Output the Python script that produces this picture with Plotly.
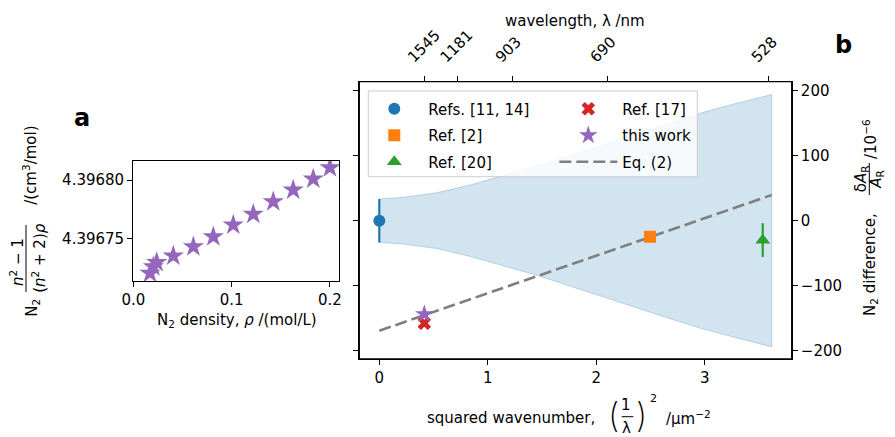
import plotly.graph_objects as go

W, H = 895, 437          # browser window
OFF = 8                   # default page margin around the plot div
FW, FH = W - OFF, H - OFF  # figure size

# ---------------- data ----------------
# panel a : N2 molar polarizability vs density
rho_a = [0.2001, 0.1831, 0.1627, 0.1424, 0.1221, 0.1017, 0.0814, 0.0611, 0.0407, 0.0238, 0.0204, 0.0170]
pol_a = [4.3968105, 4.3968009, 4.3967914, 4.3967814, 4.3967706, 4.3967614,
         4.3967514, 4.3967428, 4.3967348, 4.3967294, 4.3967256, 4.3967200]
a_xticks = [0.0, 0.1, 0.2]
a_yticks = [4.39675, 4.39680]

# panel b : relative difference vs squared wavenumber (um^-2), values in 1e-6
refs1114_x, refs1114_y, refs1114_err = [0.0], [0.0], [33.5]
ref2_x, ref2_y, ref2_err = [2.495], [-24.6], [3.0]
ref20_x, ref20_y, ref20_err = [3.534], [-30.0], [26.0]
ref17_x, ref17_y, ref17_err = [0.415], [-158.0], [4.0]
work_x, work_y = [0.415], [-144.0]
eq2_x, eq2_y = [0.0, 3.617], [-169.5, 39.6]
band_x = [0.0, 0.221, 0.529, 0.836, 1.143, 1.451, 1.758, 2.065, 2.372, 2.68, 2.986, 3.294, 3.617]
band_half = [33.4, 36.0, 43.0, 55.0, 69.5, 84.0, 100.0, 117.0, 134.0, 151.0, 167.0, 181.0, 194.5]
b_xticks = [0, 1, 2, 3]
b_yticks = [-200, -100, 0, 100, 200]
top_wavelengths_nm = [1545, 1181, 903, 690, 528]

# ---------------- styling helpers ----------------
FONT = "DejaVu Sans"
BLUE, ORANGE, GREEN, RED, PURPLE, GREY = "#1f77b4", "#ff7f0e", "#2ca02c", "#d62728", "#9467bd", "#7f7f7f"


def px(x, y):
    return (x - OFF) / FW, 1 - (y - OFF) / FH


def dom_x(a, b):
    return [px(a, 0)[0], px(b, 0)[0]]


def dom_y(top, bottom):
    return [px(0, bottom)[1], px(0, top)[1]]


def ann(text, x, y, size=15, angle=0, xanchor="center", yanchor="middle", bold=False, family=FONT, weight=None):
    ax, ay = px(x, y)
    f = dict(family=family, size=size, color="black")
    if weight is not None:
        f["weight"] = weight
    return dict(text=("<b>%s</b>" % text) if bold else text, x=ax, y=ay, xref="paper", yref="paper",
                showarrow=False, textangle=angle, xanchor=xanchor, yanchor=yanchor, font=f)


def vline(x, y0, y1):
    ax, ay0 = px(x, y0)
    _, ay1 = px(x, y1)
    return dict(type="line", xref="paper", yref="paper", x0=ax, x1=ax, y0=ay0, y1=ay1,
                line=dict(color="black", width=1))


def hline(x0, x1, y):
    ax0, ay = px(x0, y)
    ax1, _ = px(x1, y)
    return dict(type="line", xref="paper", yref="paper", x0=ax0, x1=ax1, y0=ay, y1=ay,
                line=dict(color="black", width=1))


fig = go.Figure()

# ---------------- panel a ----------------
fig.add_trace(go.Scatter(x=rho_a, y=pol_a, mode="markers", xaxis="x", yaxis="y",
                         marker=dict(symbol="star", size=16, color=PURPLE, line=dict(width=0)),
                         showlegend=False))

# ---------------- panel b ----------------
upper = [h for h in band_half]
lower = [-h for h in band_half]
fig.add_trace(go.Scatter(x=band_x + band_x[::-1], y=upper + lower[::-1], mode="lines",
                         fill="toself", fillcolor="rgba(31,119,180,0.2)",
                         line=dict(color="rgba(31,119,180,0.25)", width=1),
                         xaxis="x2", yaxis="y2", showlegend=False, hoverinfo="skip"))

fig.add_trace(go.Scatter(x=eq2_x, y=eq2_y, mode="lines", name="Eq. (2)",
                         line=dict(color=GREY, width=2.6, dash="12px,5px"),
                         xaxis="x2", yaxis="y2", legend="legend2", legendrank=3, legendgroup="g6"))


def errpts(xs, ys, err, color, symbol, size, name, legend, rank, grp):
    return go.Scatter(x=xs, y=ys, mode="markers", name=name,
                      marker=dict(symbol=symbol, size=size, color=color, line=dict(width=0)),
                      error_y=dict(type="data", array=err, visible=True, color=color, thickness=2.2, width=0),
                      xaxis="x2", yaxis="y2", legend=legend, legendrank=rank, legendgroup=grp)


fig.add_trace(errpts(refs1114_x, refs1114_y, refs1114_err, BLUE, "circle", 12, "Refs. [11, 14]", "legend", 1, "g1"))
fig.add_trace(errpts(ref2_x, ref2_y, ref2_err, ORANGE, "square", 12, "Ref. [2]", "legend", 2, "g2"))
fig.add_trace(errpts(ref20_x, ref20_y, ref20_err, GREEN, "triangle-up", 13, "Ref. [20]", "legend", 3, "g3"))
fig.add_trace(errpts(ref17_x, ref17_y, ref17_err, RED, "x", 12, "Ref. [17]", "legend2", 1, "g4"))
fig.add_trace(go.Scatter(x=work_x, y=work_y, mode="markers", name="this work",
                         marker=dict(symbol="star", size=14, color=PURPLE, line=dict(width=0)),
                         xaxis="x2", yaxis="y2", legend="legend2", legendrank=2, legendgroup="g5"))

# top axis (wavelength) uses the same scale as the bottom axis
top_vals = [(1000.0 / l) ** 2 for l in top_wavelengths_nm]
top_text = [str(l) for l in top_wavelengths_nm]
# invisible carrier trace so the top axis is drawn
fig.add_trace(go.Scatter(x=top_vals, y=[0] * len(top_vals), mode="markers", xaxis="x3", yaxis="y2",
                         marker=dict(opacity=0, size=1), showlegend=False, hoverinfo="skip"))

axis_common = dict(showline=True, linecolor="black", linewidth=1.3, ticks="outside", ticklen=5,
                   tickwidth=1.2, tickcolor="black", showgrid=False, zeroline=False, automargin=False,
                   tickfont=dict(family=FONT, size=15, color="black"))

b_xrange = [-0.1843, 3.801]
lf_x0, lf_y0 = px(368.3, 91)
lf_x1, lf_y1 = px(697.3, 176.7)

fig.update_layout(
    width=FW, height=FH, autosize=False,
    margin=dict(l=0, r=0, t=0, b=0),
    paper_bgcolor="white", plot_bgcolor="rgba(0,0,0,0)",
    font=dict(family=FONT, size=15, color="black"),
    xaxis=dict(domain=dom_x(133.3, 339.3), anchor="y", range=[0.0, 0.2096],
               tickvals=a_xticks, tickformat=".1f", mirror=True, **axis_common),
    yaxis=dict(domain=dom_y(161, 281), anchor="x", range=[4.3967134, 4.3968163],
               tickvals=a_yticks, tickformat=".5f", mirror=True, **axis_common),
    xaxis2=dict(domain=dom_x(359.3, 791.7), anchor="y2", range=b_xrange,
                tickvals=b_xticks, **axis_common),
    yaxis2=dict(domain=dom_y(81.7, 359), anchor="x2", side="right", range=[-213.1, 214.2],
                tickvals=b_yticks, mirror="ticks", **axis_common),
    xaxis3=dict(overlaying="x2", anchor="y2", side="top", range=b_xrange,
                tickvals=top_vals, ticktext=top_text, tickangle=-45,
                ticklabelshift=-16, ticklabelstandoff=4, **axis_common),
    legend=dict(x=px(360.3, 0)[0], y=px(0, 92.5)[1], xanchor="left", yanchor="top",
                bgcolor="rgba(0,0,0,0)", borderwidth=0, tracegroupgap=4, itemwidth=58,
                font=dict(family=FONT, size=15, color="black")),
    legend2=dict(x=px(554.3, 0)[0], y=px(0, 92.5)[1], xanchor="left", yanchor="top",
                 bgcolor="rgba(0,0,0,0)", borderwidth=0, tracegroupgap=4, itemwidth=58,
                 font=dict(family=FONT, size=15, color="black")),
    shapes=[
        dict(type="rect", xref="paper", yref="paper", x0=lf_x0, x1=lf_x1,
             y0=lf_y1, y1=lf_y0, fillcolor="rgba(255,255,255,0.8)",
             line=dict(color="rgba(200,200,200,0.9)", width=1), layer="above"),
        dict(type="rect", xref="x2 domain", yref="y2 domain", x0=0, x1=1, y0=0, y1=1,
             line=dict(color="black", width=1.3), fillcolor="rgba(0,0,0,0)", layer="above"),
        vline(26, 225, 292),          # panel a y-title fraction bar
        vline(869.3, 163, 195),       # panel b right title fraction bar
        hline(621.7, 633.3, 416.7),   # bottom title fraction bar
    ],
    annotations=[
        ann("a", 82, 118, size=24, bold=True),
        ann("b", 843, 45, size=24, bold=True),
        # panel a titles
        ann("N<sub>2</sub> density, <i>ρ</i> /(mol/L)", 236.5, 320),
        ann("N<sub>2</sub>", 31.7, 308, angle=-90),
        ann("<i>n</i><sup>2</sup> − 1", 17.5, 262.5, angle=-90),
        ann("(<i>n</i><sup>2</sup> + 2)<i>ρ</i>", 38.3, 257.5, angle=-90),
        ann("/(cm<sup>3</sup>/mol)", 30, 165.8, angle=-90),
        # panel b titles
        ann("wavelength, λ /nm", 575, 21.5),
        ann("squared wavenumber,", 597, 418.3, xanchor="right"),
        ann("(", 613.3, 414, size=34, family="Inter, Lato, DejaVu Sans", weight=200),
        ann("1", 626, 405),
        ann("λ", 626, 428),
        ann(")", 641.7, 414, size=34, family="Inter, Lato, DejaVu Sans", weight=200),
        ann("2", 653.3, 398.3, size=11),
        ann("/µm<sup>−2</sup>", 664, 418.3, xanchor="left"),
        ann("N<sub>2</sub> difference,", 870, 265, angle=-90),
        ann("δ<i>A</i><sub>R</sub>", 861.7, 178.5, angle=-90),
        ann("<i>A</i><sub>R</sub>", 876.7, 179, angle=-90),
        ann("/10<sup>−6</sup>", 870, 139, angle=-90),
    ],
)

fig.write_html("out.html")
